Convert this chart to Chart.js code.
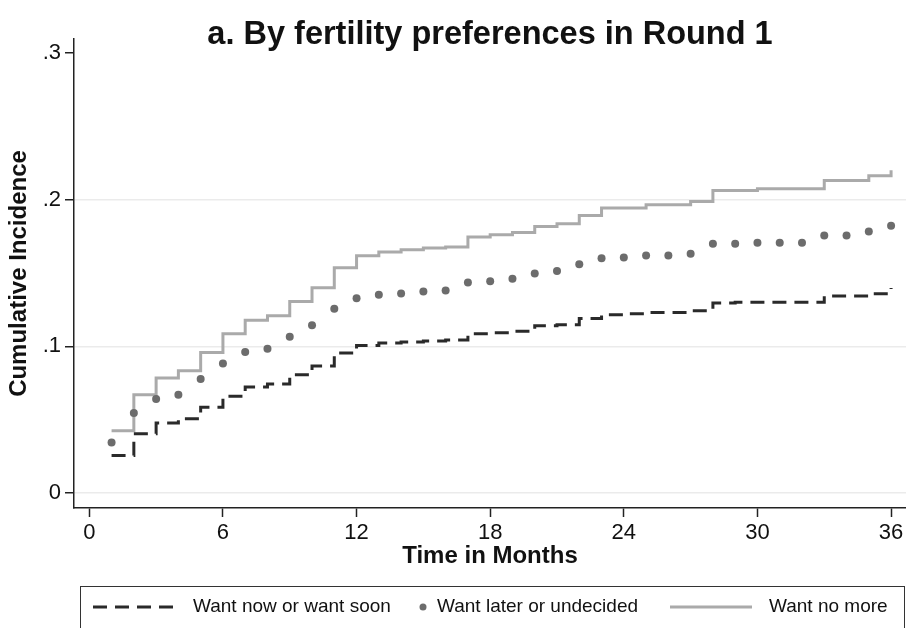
<!DOCTYPE html>
<html>
<head>
<meta charset="utf-8">
<script src="https://cdn.jsdelivr.net/npm/chart.js@4.4.1/dist/chart.umd.min.js"></script>
<style>
  html, body { margin: 0; padding: 0; background: #ffffff; }
  #wrap { width: 906px; height: 628px; position: relative; }
</style>
</head>
<body>
<div id="wrap"><canvas id="c"></canvas></div>
<script>
const titleText = 'a. By fertility preferences in Round 1';
const seriesLabels = ['Want now or want soon', 'Want later or undecided', 'Want no more'];
const months = [1,2,3,4,5,6,7,8,9,10,11,12,13,14,15,16,17,18,19,20,21,22,23,24,25,26,27,28,29,30,31,32,33,34,35,36];
const wantNowSoon = [0.0256,0.0404,0.0477,0.0506,0.0584,0.0659,0.0723,0.0743,0.0806,0.0866,0.0954,0.1006,
                     0.1022,0.1029,0.1036,0.1043,0.1086,0.1093,0.1102,0.1140,0.1147,0.1190,0.1215,0.1222,
                     0.1231,0.1231,0.1243,0.1295,0.1300,0.1300,0.1300,0.1300,0.1343,0.1343,0.1359,0.1397];
const wantLater = [0.0345,0.0545,0.0641,0.0670,0.0777,0.0883,0.0961,0.0984,0.1065,0.1143,0.1256,0.1328,
                   0.1352,0.1361,0.1374,0.1381,0.1436,0.1443,0.1461,0.1497,0.1513,0.1559,0.1601,0.1606,
                   0.1620,0.1620,0.1631,0.1700,0.1700,0.1706,0.1706,0.1706,0.1756,0.1756,0.1783,0.1822];
const wantNoMore = [0.0425,0.0670,0.0784,0.0834,0.0958,0.1086,0.1177,0.1209,0.1306,0.1400,0.1536,0.1618,
                    0.1643,0.1659,0.1670,0.1677,0.1745,0.1761,0.1776,0.1817,0.1836,0.1892,0.1943,0.1943,
                    0.1965,0.1965,0.1988,0.2063,0.2063,0.2074,0.2074,0.2074,0.2131,0.2131,0.2163,0.2200];
const xTicks = [0, 6, 12, 18, 24, 30, 36];
const xTickLabels = ['0', '6', '12', '18', '24', '30', '36'];
const yTicks = [0, 0.1, 0.2, 0.3];
const yTickLabels = ['0', '.1', '.2', '.3'];

const FONT = '"Liberation Sans", Arial, Helvetica, sans-serif';
const DASH_COLOR = '#2a2a2a', DOT_COLOR = '#6c6c6c', SOLID_COLOR = '#aaaaaa';
const DASH = [14, 8];

function pts(vals) { return months.map((m, i) => ({ x: m, y: vals[i] })); }

const figurePlugin = {
  id: 'figureText',
  afterDraw(chart) {
    const ctx = chart.ctx, ca = chart.chartArea;
    ctx.save();
    // title
    ctx.fillStyle = '#111111';
    ctx.font = 'bold 32.5px ' + FONT;
    ctx.textAlign = 'center';
    ctx.textBaseline = 'alphabetic';
    ctx.fillText(titleText, (ca.left + ca.right) / 2, 44);
    // legend box
    ctx.strokeStyle = '#333333';
    ctx.lineWidth = 1;
    ctx.strokeRect(80.5, 586.5, 824, 80);
    const ly = 607;
    ctx.font = '19px ' + FONT;
    ctx.textAlign = 'left';
    ctx.textBaseline = 'middle';
    // item 1
    ctx.strokeStyle = DASH_COLOR; ctx.lineWidth = 3; ctx.setLineDash(DASH);
    ctx.beginPath(); ctx.moveTo(93, ly); ctx.lineTo(180, ly); ctx.stroke();
    ctx.setLineDash([]);
    ctx.fillStyle = '#111111';
    ctx.fillText(seriesLabels[0], 193, ly);
    // item 2
    ctx.fillStyle = DOT_COLOR;
    ctx.beginPath(); ctx.arc(423, ly, 3.5, 0, Math.PI * 2); ctx.fill();
    ctx.fillStyle = '#111111';
    ctx.fillText(seriesLabels[1], 437, ly);
    // item 3
    ctx.strokeStyle = SOLID_COLOR; ctx.lineWidth = 3;
    ctx.beginPath(); ctx.moveTo(670, ly); ctx.lineTo(752, ly); ctx.stroke();
    ctx.fillStyle = '#111111';
    ctx.fillText(seriesLabels[2], 769, ly);
    ctx.restore();
  }
};

new Chart(document.getElementById('c'), {
  type: 'line',
  data: {
    datasets: [
      { label: seriesLabels[0], data: pts(wantNowSoon), stepped: true, borderColor: DASH_COLOR,
        borderWidth: 3, borderDash: DASH, pointRadius: 0, fill: false, order: 1 },
      { label: seriesLabels[1], data: pts(wantLater), showLine: false, pointRadius: 4,
        pointBackgroundColor: DOT_COLOR, pointBorderWidth: 0, borderColor: DOT_COLOR, order: 0 },
      { label: seriesLabels[2], data: pts(wantNoMore), stepped: true, borderColor: SOLID_COLOR,
        borderWidth: 3, pointRadius: 0, fill: false, order: 2 }
    ]
  },
  options: {
    responsive: true,
    maintainAspectRatio: false,
    animation: false,
    devicePixelRatio: 1,
    layout: { autoPadding: false, padding: { top: 39, left: 0, right: 0, bottom: 57 } },
    plugins: { legend: { display: false }, tooltip: { enabled: false }, title: { display: false } },
    scales: {
      x: {
        type: 'linear', min: -0.687, max: 36.67,
        afterFit: s => { s.height = 63; s.paddingLeft = 0; s.paddingRight = 0; },
        afterBuildTicks: s => { s.ticks = xTicks.map(v => ({ value: v })); },
        ticks: { font: { size: 22, family: FONT }, color: '#111', padding: 3, maxRotation: 0, autoSkip: false,
                 callback: (v, i) => xTickLabels[i] },
        grid: { drawOnChartArea: false, tickColor: '#222', tickLength: 9, tickWidth: 1.5 },
        border: { display: true, color: '#222', width: 1.5 },
        title: { display: true, text: 'Time in Months', color: '#111',
                 font: { size: 24, weight: 'bold', family: FONT }, padding: { top: 0, bottom: 0 } }
      },
      y: {
        type: 'linear', min: -0.0102, max: 0.3095,
        afterFit: s => { s.width = 74; s.paddingTop = 0; s.paddingBottom = 0; },
        afterBuildTicks: s => { s.ticks = yTicks.map(v => ({ value: v })); },
        ticks: { font: { size: 22, family: FONT }, color: '#111', padding: 4,
                 callback: (v, i) => yTickLabels[i] },
        grid: { color: c => (c.tick && c.tick.value === 0.3) ? 'rgba(0,0,0,0)' : '#ebebeb',
                lineWidth: 1.5, tickColor: '#222', tickLength: 9, tickWidth: 1.5 },
        border: { display: true, color: '#222', width: 1.5 },
        title: { display: true, text: 'Cumulative Incidence', color: '#111',
                 font: { size: 24, weight: 'bold', family: FONT }, padding: { top: 5, bottom: 0 } }
      }
    }
  },
  plugins: [figurePlugin]
});
</script>
</body>
</html>
